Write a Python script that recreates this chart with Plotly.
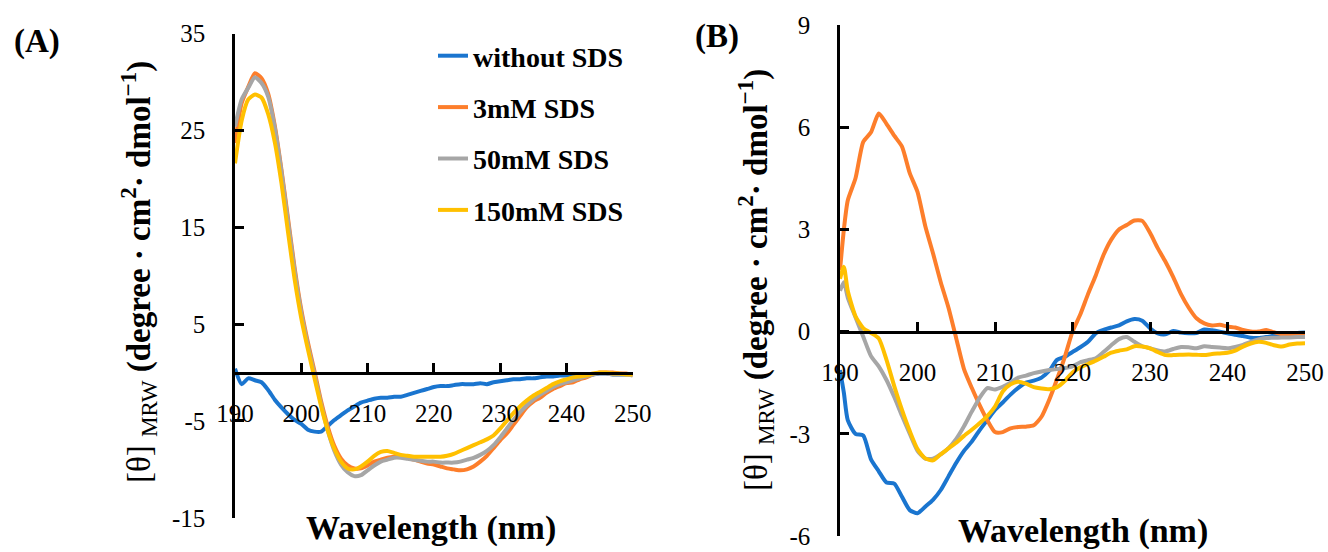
import plotly.graph_objects as go

# ---------------- data ----------------
wl_a = list(range(190, 251))

a_without = [0.4, -1.2, -0.6, -0.8, -1.0, -1.8, -2.8, -3.6, -4.3, -4.9,
             -5.3, -5.9, -6.1, -6.1, -5.5, -4.9, -4.4, -3.9, -3.5, -3.1,
             -2.9, -2.7, -2.6, -2.6, -2.5, -2.5, -2.3, -2.1, -1.9, -1.7,
             -1.5, -1.4, -1.4, -1.3, -1.2, -1.2, -1.2, -1.1, -1.2, -1.0,
             -0.9, -0.8, -0.7, -0.7, -0.6, -0.6, -0.5, -0.4, -0.4, -0.3,
             -0.3, -0.3, -0.2, -0.2, -0.2, -0.1, -0.1, -0.2, -0.2, -0.2, -0.2]
a_3mM = [23.7, 27.8, 29.5, 30.9, 30.4, 28.8, 25.5, 21.0, 15.9, 10.8,
         6.5, 3.1, 0.1, -3.0, -5.6, -7.6, -8.9, -9.6, -9.9, -9.9,
         -9.6, -9.2, -9.0, -8.8, -8.7, -8.7, -8.8, -9.0, -9.2, -9.4,
         -9.5, -9.7, -9.9, -10.0, -10.1, -10.0, -9.7, -9.2, -8.6, -7.8,
         -7.0, -6.3, -5.4, -4.5, -3.6, -3.0, -2.6, -2.1, -1.7, -1.4,
         -1.1, -1.0, -0.7, -0.5, -0.2, 0.0, 0.0, 0.0, -0.1, -0.1, -0.3]
a_50mM = [25.4, 28.2, 29.4, 30.5, 29.9, 28.5, 25.3, 20.8, 15.6, 10.5,
          6.2, 2.8, -0.2, -3.3, -6.0, -8.1, -9.5, -10.3, -10.7, -10.6,
          -10.1, -9.6, -9.2, -9.0, -8.8, -8.8, -8.9, -9.0, -9.1, -9.2,
          -9.2, -9.3, -9.3, -9.3, -9.2, -9.0, -8.8, -8.5, -8.1, -7.5,
          -6.7, -5.8, -4.9, -4.1, -3.4, -2.8, -2.3, -1.9, -1.5, -1.2,
          -1.0, -0.8, -0.6, -0.4, -0.2, -0.1, -0.1, -0.2, -0.2, -0.2, -0.3]
a_150mM = [21.6, 26.0, 28.2, 28.7, 28.4, 26.7, 23.8, 19.6, 14.5, 9.6,
           5.6, 2.4, -0.6, -3.5, -6.0, -7.9, -9.2, -9.9, -10.0, -9.7,
           -9.2, -8.6, -8.2, -8.1, -8.3, -8.5, -8.6, -8.7, -8.7, -8.7,
           -8.7, -8.7, -8.6, -8.4, -8.1, -7.8, -7.5, -7.2, -6.9, -6.5,
           -5.8, -5.0, -4.2, -3.5, -2.9, -2.4, -2.0, -1.6, -1.2, -0.9,
           -0.7, -0.5, -0.4, -0.3, -0.1, 0.0, 0.0, -0.1, -0.1, -0.2, -0.2]

wl_b = [190, 190.5] + list(range(191, 251))

b_without = [-1.13, -1.8, -2.6, -3.0, -3.05, -3.75, -4.1, -4.43, -4.46, -4.85, -5.24,
             -5.33, -5.14, -4.94, -4.65, -4.25, -3.85, -3.5, -3.23, -2.9, -2.6,
             -2.3, -2.08, -1.85, -1.65, -1.5, -1.44, -1.35, -1.15, -0.83, -0.74,
             -0.6, -0.46, -0.3, -0.05, 0.05, 0.12, 0.18, 0.3, 0.37, 0.32,
             0.1, -0.05, -0.08, 0.02, -0.03, -0.05, -0.04, 0.06, 0.04, 0.0,
             -0.05, -0.09, -0.13, -0.18, -0.19, -0.16, -0.12, -0.09, -0.06, -0.04, -0.03]
b_3mM = [1.8, 3.0, 3.85, 4.5, 5.57, 5.85, 6.4, 6.1, 5.75, 5.43, 4.65,
         4.1, 3.1, 2.3, 1.45, 0.7, -0.2, -1.1, -1.65, -2.15, -2.6,
         -2.95, -2.95, -2.84, -2.8, -2.79, -2.75, -2.5, -2.0, -1.4, -0.75,
         0.0, 0.5, 1.1, 1.65, 2.25, 2.7, 3.0, 3.13, 3.26, 3.25,
         2.9, 2.45, 2.05, 1.6, 1.1, 0.7, 0.39, 0.24, 0.18, 0.2,
         0.15, 0.12, 0.05, 0.0, 0.0, 0.05, -0.02, -0.08, -0.1, -0.1, -0.1]
b_50mM = [1.2, 1.45, 1.0, 0.42, -0.15, -0.72, -1.02, -1.42, -1.92, -2.47, -3.0,
          -3.5, -3.73, -3.73, -3.6, -3.42, -3.15, -2.78, -2.35, -1.95, -1.66,
          -1.7, -1.62, -1.5, -1.35, -1.29, -1.22, -1.17, -1.13, -1.1, -1.07,
          -1.02, -0.9, -0.84, -0.78, -0.6, -0.4, -0.22, -0.16, -0.3, -0.43,
          -0.49, -0.55, -0.58, -0.51, -0.45, -0.46, -0.49, -0.43, -0.45, -0.47,
          -0.49, -0.45, -0.39, -0.3, -0.23, -0.19, -0.18, -0.17, -0.17, -0.16, -0.16]
b_150mM = [1.55, 1.9, 1.2, 0.45, 0.1, -0.04, -0.2, -0.83, -1.6, -2.3, -2.92,
           -3.45, -3.72, -3.78, -3.6, -3.43, -3.26, -3.06, -2.88, -2.69, -2.48,
           -2.2, -1.76, -1.55, -1.47, -1.53, -1.63, -1.67, -1.69, -1.63, -1.45,
           -1.2, -1.05, -0.95, -0.85, -0.74, -0.62, -0.56, -0.52, -0.43, -0.44,
           -0.49, -0.6, -0.69, -0.69, -0.68, -0.67, -0.68, -0.69, -0.66, -0.64,
           -0.62, -0.56, -0.44, -0.35, -0.3, -0.33, -0.4, -0.44, -0.38, -0.35, -0.34]

series_names = ["without SDS", "3mM SDS", "50mM SDS", "150mM SDS"]
series_colors = ["#1a75cf", "#fd7e2b", "#a6a6a6", "#ffc000"]

x_ticks = [190, 200, 210, 220, 230, 240, 250]
a_yticks = [-15, -5, 5, 15, 25, 35]
a_yticktext = ["-15", "-5", "5", "15", "25", "35"]
b_yticks = [-6, -3, 0, 3, 6, 9]
b_yticktext = ["-6", "-3", "0", "3", "6", "9"]

# ---------------- layout geometry ----------------
W, H = 1328, 552
FONT = "Liberation Serif, Times New Roman, serif"

def px_x(p):
    return p / W

def px_y(p):
    return 1 - p / H

a_dom_x = [px_x(235), px_x(632.7)]
a_dom_y = [px_y(517.8), px_y(33.6)]
b_dom_x = [px_x(840), px_x(1305)]
b_dom_y = [px_y(536), px_y(25)]

a_zero = a_dom_y[0] + (0 - (-15)) / 50 * (a_dom_y[1] - a_dom_y[0])
b_zero = b_dom_y[0] + (0 - (-6)) / 15 * (b_dom_y[1] - b_dom_y[0])

fig = go.Figure()

for name, col, ys in zip(series_names, series_colors, [a_without, a_3mM, a_50mM, a_150mM]):
    fig.add_trace(go.Scatter(x=wl_a, y=ys, mode="lines", name=name,
                             line=dict(color=col, width=4, shape="spline", smoothing=0.6),
                             xaxis="x", yaxis="y", legendgroup=name, showlegend=True))
for name, col, ys in zip(series_names, series_colors, [b_without, b_3mM, b_50mM, b_150mM]):
    fig.add_trace(go.Scatter(x=wl_b, y=ys, mode="lines", name=name,
                             line=dict(color=col, width=4, shape="spline", smoothing=0.6),
                             xaxis="x2", yaxis="y2", legendgroup=name, showlegend=False))

tickfont = dict(family=FONT, size=25, color="black")
common_x = dict(range=[190, 250], tickvals=x_ticks, showgrid=False, zeroline=False,
                showline=True, linecolor="black", linewidth=2.5, ticks="inside",
                ticklen=9, tickwidth=2.5, tickcolor="black", tickfont=tickfont,
                ticklabelstandoff=18, anchor="free", fixedrange=True, automargin=False)
common_y = dict(showgrid=False, zeroline=False, showline=True, linecolor="black",
                linewidth=2.5, ticks="inside", ticklen=9, tickwidth=2.5, tickcolor="black",
                tickfont=tickfont, ticklabelstandoff=22, fixedrange=True, automargin=False)

title_y = ("[θ] <sub>MRW</sub> <b>(degree · cm<sup>2</sup>· dmol<sup>−1</sup>)</b>")

def ann(text, x, y, size, angle=0):
    return dict(text=text, x=px_x(x), y=px_y(y), xref="paper", yref="paper",
                xanchor="center", yanchor="middle", textangle=angle, showarrow=False,
                font=dict(family=FONT, size=size, color="black"))

fig.update_layout(
    width=W, height=H,
    margin=dict(l=0, r=0, t=0, b=0, autoexpand=False),
    paper_bgcolor="white", plot_bgcolor="white",
    font=dict(family=FONT, color="black"),
    xaxis=dict(domain=a_dom_x, position=a_zero, **common_x),
    yaxis=dict(domain=a_dom_y, range=[-15, 35], tickvals=a_yticks, ticktext=a_yticktext,
               anchor="x", **common_y),
    xaxis2=dict(domain=b_dom_x, position=b_zero, **common_x),
    yaxis2=dict(domain=b_dom_y, range=[-6, 9], tickvals=b_yticks, ticktext=b_yticktext,
                anchor="x2", **common_y),
    legend=dict(x=px_x(433), y=px_y(31), xanchor="left", yanchor="top",
                font=dict(family=FONT, size=28, color="black", weight="bold"),
                tracegroupgap=12, bgcolor="rgba(0,0,0,0)", traceorder="grouped"),
    showlegend=True,
    annotations=[
        ann("<b>(A)</b>", 37, 41, 33),
        ann("<b>(B)</b>", 717, 37, 33),
        ann(title_y, 138, 272, 33, -90),
        ann(title_y, 755, 280, 33, -90),
        ann("<b>Wavelength (nm)</b>", 431, 528, 34),
        ann("<b>Wavelength (nm)</b>", 1083, 531, 34),
    ],
)

fig.write_html("out.html")
